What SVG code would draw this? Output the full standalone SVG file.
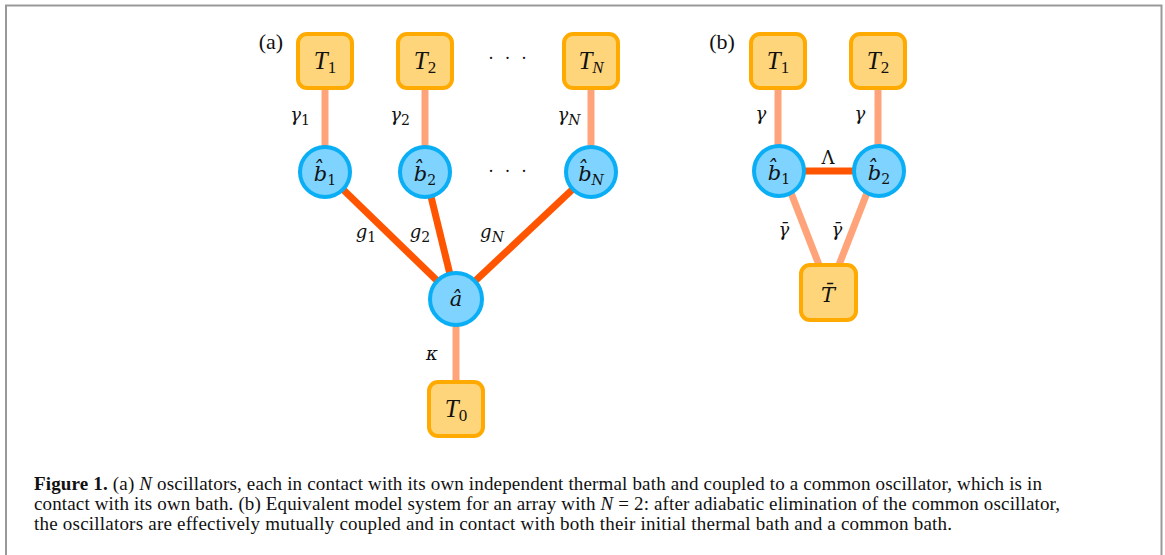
<svg xmlns="http://www.w3.org/2000/svg" width="1165" height="555" viewBox="0 0 1165 555">
<style>
.box{fill:#FED57B;stroke:#FFAA00;stroke-width:4}
.osc{fill:#7ED3FF;stroke:#0AAEF5;stroke-width:4}
.weak{stroke:#FFA47A;stroke-width:7;fill:none}
.strong{stroke:#FF5500;stroke-width:7;fill:none}
.m{font-family:"Liberation Serif","DejaVu Serif",serif;font-style:italic;font-size:25px;fill:#111;text-anchor:middle}
.mb{font-family:"DejaVu Serif","Liberation Serif",serif;font-style:italic;font-size:21px;fill:#111;text-anchor:middle}
.lbl{font-family:"DejaVu Serif","Liberation Serif",serif;font-style:italic;font-size:18px;fill:#111;text-anchor:middle}
.up{font-style:normal}
.sub{font-size:14px;font-style:normal}
.subi{font-size:14px}
.m .sub,.m .subi{font-size:17px}
.pl{font-family:"Liberation Serif",serif;font-size:22px;fill:#111;text-anchor:middle}
.cap{font-family:"Liberation Serif",serif;font-size:19px;fill:#111}
.dots{font-family:"Liberation Serif",serif;font-size:18px;fill:#111;text-anchor:middle;letter-spacing:3px}
</style>
<rect width="1165" height="555" fill="#fff"/>
<path d="M6,560 V5.5 H1161.5 V560" fill="none" stroke="#999" stroke-width="2"/>
<g id="connectors">
<line class="weak" x1="325" y1="88" x2="325" y2="150"/>
<line class="weak" x1="425" y1="88" x2="425" y2="150"/>
<line class="weak" x1="591" y1="88" x2="591" y2="150"/>
<line class="strong" x1="325" y1="172" x2="456" y2="299"/>
<line class="strong" x1="425" y1="172" x2="456" y2="299"/>
<line class="strong" x1="591" y1="172" x2="456" y2="299"/>
<line class="weak" x1="456" y1="320" x2="456" y2="383"/>
<line class="weak" x1="778" y1="88" x2="778" y2="150"/>
<line class="weak" x1="878" y1="88" x2="878" y2="150"/>
<line class="strong" x1="790" y1="171" x2="868" y2="171"/>
<line class="weak" x1="786" y1="180" x2="821" y2="270"/>
<line class="weak" x1="872" y1="180" x2="837" y2="270"/>
</g>
<g id="T1a"><rect class="box" x="298" y="34" width="54" height="54" rx="9"/><text class="m" x="325" y="69">T<tspan class="sub" dy="4">1</tspan></text></g>
<g id="T2a"><rect class="box" x="398" y="34" width="54" height="54" rx="9"/><text class="m" x="425" y="69">T<tspan class="sub" dy="4">2</tspan></text></g>
<g id="TNa"><rect class="box" x="564" y="34" width="54" height="54" rx="9"/><text class="m" x="591" y="69">T<tspan class="subi" dy="4">N</tspan></text></g>
<g id="b1a"><circle class="osc" cx="325" cy="172" r="25"/><text class="mb" x="325" y="181">b̂<tspan class="sub" dy="4">1</tspan></text></g>
<g id="b2a"><circle class="osc" cx="425" cy="172" r="25"/><text class="mb" x="425" y="181">b̂<tspan class="sub" dy="4">2</tspan></text></g>
<g id="bNa"><circle class="osc" cx="591" cy="172" r="25"/><text class="mb" x="591" y="181">b̂<tspan class="subi" dy="4">N</tspan></text></g>
<g id="a"><circle class="osc" cx="456" cy="299" r="26"/><text class="mb" x="456" y="306">â</text></g>
<g id="T0"><rect class="box" x="429" y="382" width="54" height="54" rx="9"/><text class="m" x="456" y="417">T<tspan class="sub" dy="4">0</tspan></text></g>
<g id="T1b"><rect class="box" x="751" y="34" width="54" height="54" rx="9"/><text class="m" x="778" y="69">T<tspan class="sub" dy="4">1</tspan></text></g>
<g id="T2b"><rect class="box" x="851" y="34" width="54" height="54" rx="9"/><text class="m" x="878" y="69">T<tspan class="sub" dy="4">2</tspan></text></g>
<g id="b1b"><circle class="osc" cx="779" cy="171" r="25"/><text class="mb" x="779" y="180">b̂<tspan class="sub" dy="4">1</tspan></text></g>
<g id="b2b"><circle class="osc" cx="879" cy="171" r="25"/><text class="mb" x="879" y="180">b̂<tspan class="sub" dy="4">2</tspan></text></g>
<g id="Tbar"><rect class="box" x="801" y="265" width="55" height="55" rx="9"/><text class="mb" x="828" y="302" font-size="23">T̄</text></g>
<g id="labels">
<text class="pl" x="271" y="49">(a)</text>
<text class="pl" x="722" y="49">(b)</text>
<text class="dots" x="509" y="64">· · ·</text>
<text class="dots" x="509" y="177">· · ·</text>
<text class="lbl" x="300" y="121">γ<tspan class="sub" dy="4">1</tspan></text>
<text class="lbl" x="400" y="121">γ<tspan class="sub" dy="4">2</tspan></text>
<text class="lbl" x="569" y="121">γ<tspan class="subi" dy="4">N</tspan></text>
<text class="lbl" x="366" y="238">g<tspan class="sub" dy="4">1</tspan></text>
<text class="lbl" x="420" y="238">g<tspan class="sub" dy="4">2</tspan></text>
<text class="lbl" x="492" y="238">g<tspan class="subi" dy="4">N</tspan></text>
<text class="lbl" x="432" y="360">κ</text>
<text class="lbl" x="761" y="120">γ</text>
<text class="lbl" x="860" y="120">γ</text>
<text class="lbl up" x="828" y="164">Λ</text>
<text class="lbl" x="784" y="236">γ̄</text>
<text class="lbl" x="837" y="236">γ̄</text>
</g>
<g id="caption">
<text class="cap" x="34" y="490" textLength="1008" lengthAdjust="spacing"><tspan font-weight="bold">Figure 1.</tspan> (a) <tspan font-style="italic">N</tspan> oscillators, each in contact with its own independent thermal bath and coupled to a common oscillator, which is in</text>
<text class="cap" x="34" y="510" textLength="1026" lengthAdjust="spacing">contact with its own bath. (b) Equivalent model system for an array with <tspan font-style="italic">N</tspan> = 2: after adiabatic elimination of the common oscillator,</text>
<text class="cap" x="34" y="530" textLength="918" lengthAdjust="spacing">the oscillators are effectively mutually coupled and in contact with both their initial thermal bath and a common bath.</text>
</g>
</svg>
